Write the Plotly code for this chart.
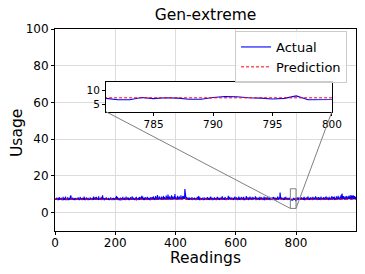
import plotly.graph_objects as go

# ---------------- data ----------------
actual = [
 7.2,7.5,6.9,7.8,7.1,7.3,8.2,7.0,7.4,6.8,7.6,7.9,7.1,7.2,8.4,7.3,6.9,7.5,7.7,7.0,8.1,7.2,7.4,6.9,7.3,
 7.8,7.1,8.6,7.2,7.0,7.5,7.3,8.0,6.9,7.4,8.8,7.1,7.6,7.2,7.0,7.9,7.3,8.3,7.1,6.8,7.5,7.2,8.1,7.4,7.0,
 7.6,8.9,7.2,9.3,7.1,7.4,7.8,6.9,7.3,8.2,7.0,7.5,7.2,7.7,6.8,7.4,7.9,7.1,7.3,8.0,7.2,6.9,7.6,7.4,7.1,
 7.8,7.2,8.3,7.0,7.5,7.3,6.9,7.7,7.1,8.5,7.3,7.0,7.6,7.2,7.9,6.8,7.4,8.1,7.2,7.0,7.5,7.3,8.7,7.1,6.9,
 7.4,7.8,7.2,7.0,8.2,7.3,7.6,6.9,7.1,7.5,8.0,7.2,7.4,6.8,7.7,7.3,7.1,8.4,7.0,7.5,7.2,7.8,6.9,7.3,8.1,
 7.1,7.6,7.2,8.8,7.0,7.4,7.9,7.2,8.3,6.9,7.5,7.1,8.6,7.3,7.0,7.7,7.2,8.1,7.4,6.9,8.9,7.2,7.5,7.1,7.8,
 7.0,7.3,8.2,7.5,6.9,7.4,8.7,7.1,9.4,7.6,7.2,8.0,7.3,6.8,7.5,7.1,7.9,7.2,7.4,7.0,8.3,7.3,6.9,7.6,7.2,
 7.8,7.0,7.4,8.1,7.2,6.9,7.5,7.3,7.7,7.1,8.4,7.0,7.3,7.6,6.8,7.2,7.9,7.4,7.1,8.0,7.3,6.9,7.5,7.2,7.8,
 7.1,8.3,7.4,7.0,9.1,7.6,7.2,8.5,7.3,6.9,7.5,7.1,8.0,7.4,7.2,6.8,7.7,7.3,8.2,7.0,7.5,7.2,7.9,6.9,7.4,
 8.6,7.1,7.3,7.8,7.0,7.5,8.1,7.2,6.9,7.4,7.6,8.8,7.1,7.3,7.0,7.9,7.2,8.3,7.5,6.9,7.3,8.0,7.1,7.6,7.2,
 7.4,8.4,7.0,7.3,7.7,6.9,8.9,7.2,7.5,7.1,8.1,7.3,7.0,7.8,7.4,6.8,7.6,8.2,7.1,7.3,8.6,7.0,7.5,7.2,7.9,
 7.1,7.4,8.0,7.2,6.9,8.5,7.3,7.6,7.0,8.3,7.5,7.2,7.8,9.2,7.1,7.4,8.7,7.0,7.6,7.3,8.1,6.9,7.5,7.2,8.4,
 7.3,7.0,7.7,8.2,7.1,7.4,6.9,8.6,7.5,7.2,7.9,7.0,7.3,8.0,7.6,7.1,6.8,8.3,7.4,7.2,7.7,7.0,8.5,7.3,7.1,
 7.8,7.2,8.8,7.0,7.4,8.1,7.3,6.9,7.6,9.0,7.2,7.5,8.4,7.1,7.3,9.6,7.0,7.7,8.2,7.4,7.1,8.9,7.3,7.6,7.2,
 8.0,7.4,7.1,8.7,7.3,6.9,7.8,8.3,7.2,7.5,9.1,7.0,7.4,8.5,7.2,7.7,8.0,7.1,7.6,9.3,7.3,7.0,8.6,7.4,7.2,
 9.8,7.5,7.1,8.4,7.3,7.8,8.9,7.2,7.0,8.2,7.6,7.3,9.4,7.1,7.5,8.7,7.2,7.9,8.3,7.4,7.1,9.0,7.6,10.1,7.3,
 7.5,8.6,7.2,7.8,8.1,7.0,7.4,9.2,7.3,7.7,8.4,7.1,7.5,8.8,7.2,7.9,8.0,7.4,9.5,7.3,7.6,8.3,7.2,8.9,7.5,
 7.8,9.1,7.3,8.2,8.6,7.4,12.8,10.2,7.5,8.4,7.2,7.9,8.5,7.3,7.1,8.0,7.4,7.0,7.7,7.2,8.3,6.9,7.5,7.3,7.8,
 7.1,8.1,7.3,7.0,7.6,8.4,7.2,6.9,7.5,7.3,7.9,7.1,7.4,8.2,7.0,7.3,7.6,6.8,8.0,7.2,7.5,7.1,8.6,7.3,7.0,
 7.4,7.8,9.0,7.2,7.1,7.5,8.3,7.3,6.9,7.6,7.2,7.9,7.0,7.4,8.1,7.3,7.1,6.8,7.7,7.2,8.4,7.0,7.5,7.3,7.1,
 7.6,8.0,7.2,7.4,6.9,7.3,8.5,7.1,7.5,7.2,7.8,7.0,8.2,7.3,6.9,7.5,7.1,8.7,7.4,7.2,7.0,7.6,8.1,7.3,6.9,
 7.5,7.2,7.9,7.1,8.4,7.3,7.0,7.6,7.2,8.0,6.8,7.4,7.1,7.7,8.6,7.3,7.0,7.5,7.2,8.2,7.1,6.9,7.4,7.8,7.3,
 7.0,8.3,7.2,7.5,7.1,8.9,7.3,6.9,7.6,7.2,8.1,7.4,7.0,7.3,7.7,8.5,7.1,7.4,6.8,7.2,7.9,7.3,7.5,8.0,7.1,
 9.2,7.4,7.0,8.6,7.3,7.6,7.2,8.2,7.1,6.9,7.5,7.3,8.4,7.0,7.4,7.8,7.2,6.9,8.1,7.3,7.5,7.1,8.7,7.2,7.4,
 7.0,7.6,8.3,7.2,6.9,7.4,8.0,7.1,7.5,7.3,8.8,7.2,7.0,7.7,7.4,8.2,6.9,7.3,7.6,7.1,8.5,7.2,7.4,7.0,7.9,
 7.3,8.6,7.1,7.5,7.2,6.8,8.1,7.4,7.0,7.6,9.0,7.3,7.1,7.8,7.2,8.4,7.5,6.9,7.3,8.0,7.1,7.4,8.7,7.2,7.6,
 7.0,7.3,8.2,7.5,6.9,7.2,7.8,8.5,7.1,7.4,7.0,8.0,7.3,7.6,7.2,8.9,7.1,6.8,7.5,7.3,8.3,7.0,7.4,7.9,7.2,
 7.5,8.1,7.1,7.3,6.9,8.6,7.4,7.2,7.7,7.0,8.3,7.3,7.5,7.1,8.0,7.4,6.9,7.6,7.2,8.8,7.3,7.1,7.5,7.0,8.2,
 7.2,7.4,6.9,7.8,8.4,7.1,7.3,7.5,8.1,7.0,7.6,7.2,8.6,7.4,6.9,7.3,7.7,8.0,7.1,7.5,7.2,8.3,6.9,7.4,7.6,
 7.1,8.5,7.3,7.0,7.8,7.2,8.2,7.5,6.9,7.4,8.0,7.1,7.6,7.3,8.7,7.2,7.0,7.5,8.1,7.4,7.2,7.9,10.9,9.3,7.3,
 7.6,8.4,7.1,7.4,7.0,8.0,7.3,7.5,6.9,7.8,7.2,8.3,7.1,7.4,7.0,7.6,8.6,7.3,7.1,7.5,7.2,8.1,6.9,7.4,7.3,
 7.7,7.1,8.2,7.4,7.0,7.3,7.1,6.6,6.6,7.4,7.0,7.3,7.2,6.8,6.8,7.4,7.8,7.7,7.3,7.2,6.9,7.1,8.0,6.6,6.6,
 6.7,7.3,8.0,7.1,7.4,6.9,8.4,7.2,7.5,7.0,7.8,7.3,8.1,7.1,6.9,7.6,7.2,8.5,7.4,7.0,7.3,7.9,7.1,8.2,7.4,
 7.0,7.5,8.6,7.2,7.3,6.9,7.7,8.0,7.1,7.4,7.2,8.3,7.0,7.6,7.3,8.8,7.1,7.5,6.9,7.2,8.1,7.4,7.0,7.7,8.4,
 7.2,7.5,7.1,8.0,7.3,6.9,8.6,7.4,7.2,7.8,7.0,8.2,7.3,7.5,7.1,8.9,7.4,7.0,7.6,7.2,8.3,6.9,7.4,7.8,7.1,
 8.5,7.3,7.0,7.6,8.1,7.2,7.4,6.9,8.7,7.1,7.5,7.3,8.0,7.2,7.7,7.0,8.4,7.3,7.1,7.6,8.2,7.4,6.9,7.5,8.8,
 7.2,7.4,7.0,8.3,7.3,7.6,7.1,8.0,7.5,6.9,8.6,7.2,7.4,7.8,7.1,8.2,7.3,7.0,7.5,9.0,7.2,7.4,7.1,8.4,7.6,
 7.3,7.9,8.7,7.1,7.5,7.2,8.1,7.4,7.0,8.9,7.6,7.3,8.3,7.1,7.5,9.2,7.2,7.8,8.0,7.4,7.1,8.6,7.3,7.5,9.4,
 7.2,8.5,9.8,10.3,7.4,8.1,7.6,9.0,7.3,7.8,8.4,7.1,7.5,8.9,7.2,7.7,8.2,7.4,9.1,7.3,7.6,8.0,7.2,8.7,7.5,
 7.9,9.3,7.3,8.2,7.6,8.8,7.4,9.6,7.2,8.0,7.7,9.2,7.4,8.5,7.3,9.4,7.6,8.1,7.2,9.0,7.5,8.3,7.4,8.6,7.3,
]
readings = list(range(len(actual)))
prediction_level = 7.3
prediction = [prediction_level for _ in readings]

main_x_range = [0, 999]
main_y_range = [-10, 100]
main_y_ticks = [0, 20, 40, 60, 80, 100]
main_x_ticks = [0, 200, 400, 600, 800]

zoom_x_range = [781, 800]
zoom_y_range = [2.3, 13]
zoom_x_ticks = [785, 790, 795, 800]
zoom_y_ticks = [5, 10]

title_text = "Gen-extreme"
x_label = "Readings"
y_label = "Usage"

# ---------------- layout constants ----------------
FONT = "DejaVu Sans"
W, H = 365, 274
ML, MR, MT, MB = 55, 9, 29, 43
PW, PH = W - ML - MR, H - MT - MB
inset_dx = [0.1694, 0.920]
inset_dy = [0.5906, 0.7376]

fig = go.Figure()
line_actual = dict(color="#0000ff", width=1.1)
line_pred = dict(color="#ff0000", width=1, dash="3px,2px")

fig.add_trace(go.Scatter(x=readings, y=actual, mode="lines", name="Actual",
                         line=line_actual, xaxis="x", yaxis="y"))
fig.add_trace(go.Scatter(x=readings, y=prediction, mode="lines", name="Prediction",
                         line=line_pred, xaxis="x", yaxis="y"))

z0, z1 = zoom_x_range
zx = [r for r in readings if z0 - 1 <= r <= z1 + 1]
fig.add_trace(go.Scatter(x=zx, y=[actual[r] for r in zx], mode="lines", showlegend=False,
                         line=line_actual, xaxis="x2", yaxis="y2"))
fig.add_trace(go.Scatter(x=zx, y=[prediction[r] for r in zx], mode="lines", showlegend=False,
                         line=line_pred, xaxis="x2", yaxis="y2"))

axis_common = dict(showline=True, linecolor="black", linewidth=1, mirror=True,
                   ticks="outside", ticklen=3, tickcolor="black", tickwidth=1,
                   zeroline=False, automargin=False)

fig.update_layout(
    width=W, height=H,
    margin=dict(l=ML, r=MR, t=MT, b=MB),
    paper_bgcolor="white", plot_bgcolor="white",
    font=dict(family=FONT, color="black", size=12),
    title=dict(text=title_text, x=(ML + PW / 2) / W, xanchor="center",
               y=1 - 15 / H, yanchor="middle", font=dict(size=15.5, family=FONT)),
    xaxis=dict(range=main_x_range, tickvals=main_x_ticks, showgrid=True,
               gridcolor="#dcdcdc", gridwidth=1, ticklabelstandoff=-2,
               tickfont=dict(size=12), **axis_common),
    yaxis=dict(range=main_y_range, tickvals=main_y_ticks, showgrid=True,
               gridcolor="#dcdcdc", gridwidth=1,
               tickfont=dict(size=12), **axis_common),
    xaxis2=dict(domain=inset_dx, anchor="y2", range=zoom_x_range, tickvals=zoom_x_ticks,
                showgrid=False, tickfont=dict(size=10.5), **axis_common),
    yaxis2=dict(domain=inset_dy, anchor="x2", range=zoom_y_range, tickvals=zoom_y_ticks,
                showgrid=False, tickfont=dict(size=10.5), **axis_common),
    legend=dict(x=(235 - ML) / PW, y=(H - MB - 31) / PH,
                xanchor="left", yanchor="top",
                bgcolor="rgba(255,255,255,0.8)", bordercolor="#cccccc", borderwidth=1,
                font=dict(size=13, family=FONT), itemwidth=30,
                tracegroupgap=0),
    showlegend=True,
)

fig.add_annotation(text=x_label, xref="paper", yref="paper",
                   x=0.5, y=-(258 - (H - MB)) / PH, xanchor="center", yanchor="middle",
                   showarrow=False, font=dict(size=15.5, family=FONT))
fig.add_annotation(text=y_label, xref="paper", yref="paper", textangle=-90,
                   x=(17 - ML) / PW, y=(H - MB - 133) / PH, xanchor="center", yanchor="middle",
                   showarrow=False, font=dict(size=15.5, family=FONT))

# inset indicator rectangle and connectors (mark_inset style)
gray = "#808080"
fig.add_shape(type="rect", xref="x", yref="y", x0=z0, x1=z1,
              y0=zoom_y_range[0], y1=zoom_y_range[1],
              line=dict(color=gray, width=1))
xr0, xr1 = main_x_range
yr0, yr1 = main_y_range
inset_left_x = xr0 + inset_dx[0] * (xr1 - xr0)
inset_right_x = xr0 + inset_dx[1] * (xr1 - xr0)
inset_bottom_y = yr0 + inset_dy[0] * (yr1 - yr0)
fig.add_shape(type="line", xref="x", yref="y", x0=inset_left_x, y0=inset_bottom_y,
              x1=z0, y1=zoom_y_range[0], line=dict(color=gray, width=1))
fig.add_shape(type="line", xref="x", yref="y", x0=inset_right_x, y0=inset_bottom_y,
              x1=z1, y1=zoom_y_range[0], line=dict(color=gray, width=1))

fig.write_html("out.html", config={"displayModeBar": False},
               post_script="document.body.style.margin='0';document.body.style.overflow='hidden';")
